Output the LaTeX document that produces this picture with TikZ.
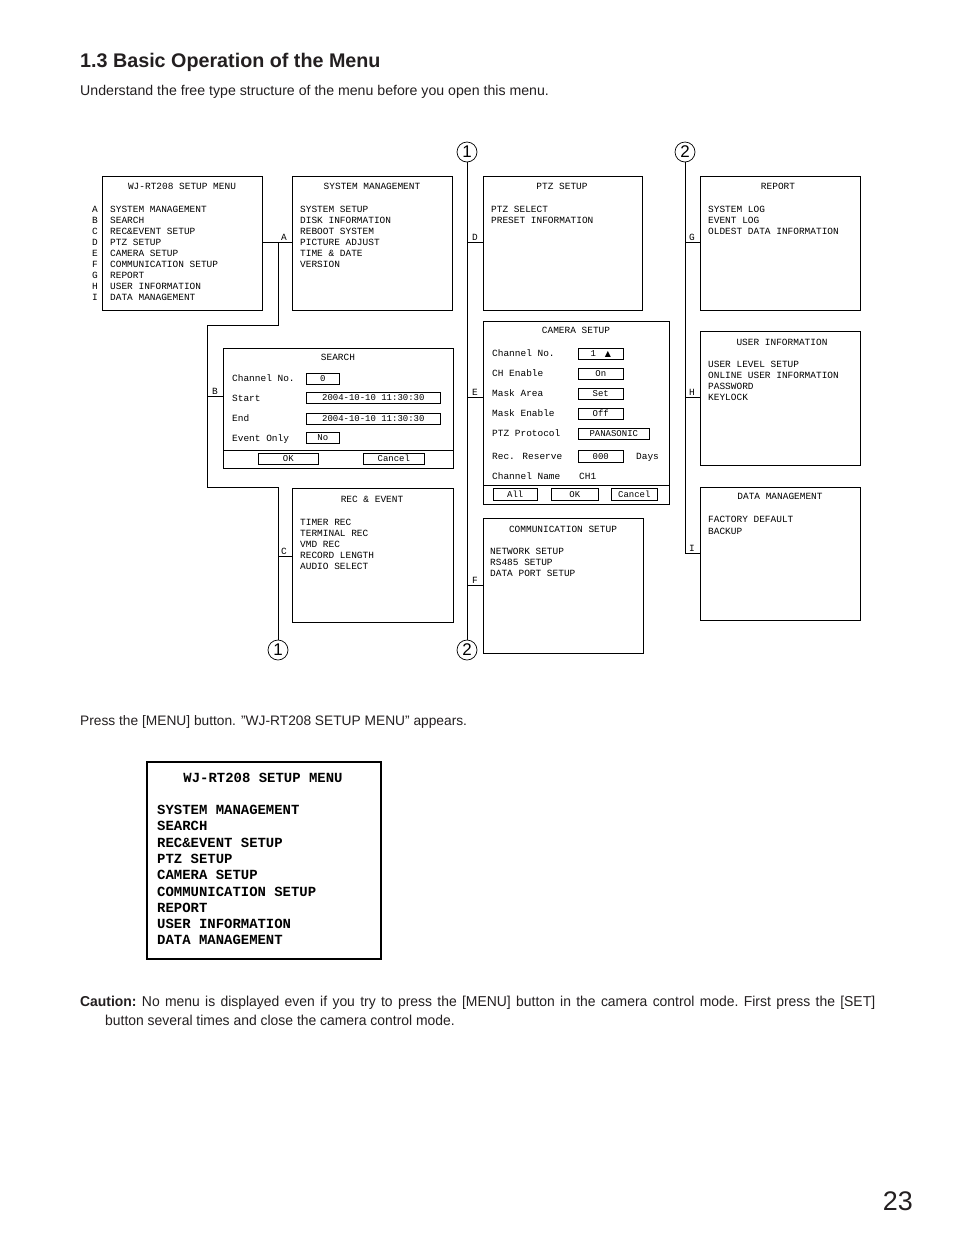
\documentclass[tikz,border=0pt]{standalone}
\usepackage{fontspec}
\setmainfont{Liberation Sans}
\newfontfamily\mono{Liberation Mono}
\newfontfamily\symf{DejaVu Sans}
\newfontfamily\narrowf[FakeStretch=0.97]{Liberation Sans}
\definecolor{ink}{RGB}{35,31,32}
\begin{document}
\begin{tikzpicture}[x=1bp,y=-1bp,
  wire/.style={line width=0.8bp, draw=black},
  mbox/.style={draw=black, line width=0.8bp, inner sep=0pt, anchor=north west, rectangle},
  field/.style={draw=black, line width=0.6bp, inner sep=0pt, anchor=north west, rectangle, minimum height=11.5bp, font=\mono\fontsize{9}{10}\selectfont},
  txt/.style={inner sep=0pt, anchor=base west, font=\mono\fontsize{9.5}{11}\selectfont},
  ttl/.style={inner sep=0pt, anchor=base, font=\mono\fontsize{9.5}{11}\selectfont},
  lbl/.style={inner sep=0pt, anchor=base, font=\mono\fontsize{9.5}{11}\selectfont},
  circ/.style={draw=black, line width=0.7bp, circle, minimum size=20bp, inner sep=0pt, font=\fontsize{17}{17}\selectfont},
  big/.style={inner sep=0pt, anchor=base west, font=\mono\bfseries\fontsize{14}{16}\selectfont},
  body/.style={inner sep=0pt, anchor=base west, text=ink, font=\fontsize{13.8}{16}\selectfont}
]
\useasboundingbox[fill=white] (0,0) rectangle (954,1237);

% ---------- headings ----------
\node[inner sep=0pt, anchor=base west, text=ink, font=\bfseries\fontsize{19.8}{22}\selectfont] (head) at (80,67) {1.3 Basic Operation of the Menu};
\node[body, font=\fontsize{14.2}{16}\selectfont] (sub) at (80,95) {Understand the free type structure of the menu before you open this menu.};
\node[body] (press) at (80,725) {Press the [MENU] button. "WJ-RT208 SETUP MENU" appears.};
\node[anchor=north west, inner sep=0pt, text width=795bp, align=justify, text=ink, font=\narrowf\fontsize{14.4}{19}\selectfont] (caution) at (80,995.5)
  {\frenchspacing\hangindent=25bp\hangafter=1\textbf{Caution:} No menu is displayed even if you try to press the [MENU] button in the camera control mode. First press the [SET]\linebreak button several times and close the camera control mode.\par};
\node[inner sep=0pt, anchor=base east, text=ink, font=\fontsize{27}{28}\selectfont] (pg) at (913,1210) {23};

% ---------- boxes ----------
\node[mbox, minimum width=160bp, minimum height=134bp] (main) at (102,176) {};
\node[mbox, minimum width=160bp, minimum height=134bp] (sys) at (292,176) {};
\node[mbox, minimum width=230bp, minimum height=120bp] (search) at (223,348) {};
\node[mbox, minimum width=161bp, minimum height=134bp] (rec) at (292,488) {};
\node[mbox, minimum width=159bp, minimum height=134bp] (ptz) at (483,176) {};
\node[mbox, minimum width=186bp, minimum height=183bp] (cam) at (483,321) {};
\node[mbox, minimum width=160bp, minimum height=135bp] (comm) at (483,518) {};
\node[mbox, minimum width=160bp, minimum height=134bp] (report) at (700,176) {};
\node[mbox, minimum width=160bp, minimum height=134bp] (user) at (700,331) {};
\node[mbox, minimum width=160bp, minimum height=133bp] (data) at (700,487) {};
\node[mbox, line width=2bp, minimum width=234bp, minimum height=197bp] (bigm) at (146,761) {};

% ---------- main menu ----------
\node[ttl] (mainT) at (182,189) {WJ-RT208 SETUP MENU};
\foreach \t [count=\i from 0] in {SYSTEM MANAGEMENT,SEARCH,REC\&EVENT SETUP,PTZ SETUP,CAMERA SETUP,COMMUNICATION SETUP,REPORT,USER INFORMATION,DATA MANAGEMENT}
  \node[txt] (mi\i) at (110,{212+11*\i}) {\t};
\foreach \t [count=\i from 0] in {A,B,C,D,E,F,G,H,I}
  \node[lbl] (ml\i) at (95,{212+11*\i}) {\t};

% ---------- system management ----------
\node[ttl] (sysT) at (372,189) {SYSTEM MANAGEMENT};
\foreach \t [count=\i from 0] in {SYSTEM SETUP,DISK INFORMATION,REBOOT SYSTEM,PICTURE ADJUST,TIME \& DATE,VERSION}
  \node[txt] (si\i) at (300,{212+11*\i}) {\t};

% ---------- search ----------
\node[ttl] (schT) at (338,360) {SEARCH};
\node[txt] (sl0) at (232,381) {Channel No.};
\node[txt] (sl1) at (232,401) {Start};
\node[txt] (sl2) at (232,421) {End};
\node[txt] (sl3) at (232,441) {Event Only};
\node[field, minimum width=33bp] (sf0) at (306,372.5) {0};
\node[field, minimum width=134bp] (sf1) at (306,391.5) {2004-10-10 11:30:30};
\node[field, minimum width=134bp] (sf2) at (306,412.5) {2004-10-10 11:30:30};
\node[field, minimum width=33bp] (sf3) at (306,431.5) {No};
\draw[wire] (search.west |- 0,450) -- (search.east |- 0,450);
\node[field, minimum width=60bp] (sok) at (258,452.5) {OK};
\node[field, minimum width=61bp] (scan) at (363,452.5) {Cancel};

% ---------- rec & event ----------
\node[ttl] (recT) at (372,502) {REC \& EVENT};
\foreach \t [count=\i from 0] in {TIMER REC,TERMINAL REC,VMD REC,RECORD LENGTH,AUDIO SELECT}
  \node[txt] (ri\i) at (300,{525+11*\i}) {\t};

% ---------- ptz ----------
\node[ttl] (ptzT) at (562,189) {PTZ SETUP};
\node[txt] (pi0) at (491,212) {PTZ SELECT};
\node[txt] (pi1) at (491,223) {PRESET INFORMATION};

% ---------- camera setup ----------
\node[ttl] (camT) at (576,333) {CAMERA SETUP};
\node[txt] (cl0) at (492,356) {Channel No.};
\node[txt] (cl1) at (492,376) {CH Enable};
\node[txt] (cl2) at (492,396) {Mask Area};
\node[txt] (cl3) at (492,416) {Mask Enable};
\node[txt] (cl4) at (492,436) {PTZ Protocol};
\node[txt] (cl5) at (492,459) {Rec. Reserve};
\node[txt] (cl6) at (492,479) {Channel Name};
\node[field, minimum width=45bp] (cf0) at (578,347.5) {1\hspace{9bp}{\symf\fontsize{8}{9}\selectfont ▲}};
\node[field, minimum width=45bp] (cf1) at (578,367.5) {On};
\node[field, minimum width=45bp] (cf2) at (578,387.5) {Set};
\node[field, minimum width=45bp] (cf3) at (578,407.5) {Off};
\node[field, minimum width=71bp] (cf4) at (578,427.5) {PANASONIC};
\node[field, minimum width=45bp] (cf5) at (578,450) {000};
\node[txt] (cdays) at (636,459) {Days};
\node[txt] (cch1) at (579,479) {CH1};
\draw[wire] (cam.west |- 0,485) -- (cam.east |- 0,485);
\node[field, minimum width=44bp] (call) at (493,488) {All};
\node[field, minimum width=47bp] (cok) at (551,488) {OK};
\node[field, minimum width=46bp] (ccan) at (611,488) {Cancel};

% ---------- communication ----------
\node[ttl] (comT) at (563,532) {COMMUNICATION SETUP};
\node[txt] (coi0) at (490,554) {NETWORK SETUP};
\node[txt] (coi1) at (490,565) {RS485 SETUP};
\node[txt] (coi2) at (490,576) {DATA PORT SETUP};

% ---------- report ----------
\node[ttl] (repT) at (778,189) {REPORT};
\node[txt] (rp0) at (708,212) {SYSTEM LOG};
\node[txt] (rp1) at (708,223) {EVENT LOG};
\node[txt] (rp2) at (708,234) {OLDEST DATA INFORMATION};

% ---------- user information ----------
\node[ttl] (usrT) at (782,345) {USER INFORMATION};
\node[txt] (u0) at (708,367) {USER LEVEL SETUP};
\node[txt] (u1) at (708,378) {ONLINE USER INFORMATION};
\node[txt] (u2) at (708,389) {PASSWORD};
\node[txt] (u3) at (708,400) {KEYLOCK};

% ---------- data management ----------
\node[ttl] (datT) at (780,499) {DATA MANAGEMENT};
\node[txt] (d0) at (708,522) {FACTORY DEFAULT};
\node[txt] (d1) at (708,534) {BACKUP};

% ---------- big menu ----------
\node[inner sep=0pt, anchor=base, font=\mono\bfseries\fontsize{14}{16}\selectfont] (bigT) at (263,782) {WJ-RT208 SETUP MENU};
\foreach \t [count=\i from 0] in {SYSTEM MANAGEMENT,SEARCH,REC\&EVENT SETUP,PTZ SETUP,CAMERA SETUP,COMMUNICATION SETUP,REPORT,USER INFORMATION,DATA MANAGEMENT}
  \node[big] (bi\i) at (157,{814.5+16.3*\i}) {\t};

% ---------- circles ----------
\node[circ] (o1b) at (278,650) {1};
\node[circ] (o1t) at (467,152) {1};
\node[circ] (o2t) at (685,152) {2};
\node[circ] (o2b) at (467,650) {2};

% ---------- connectors ----------
\coordinate (jA) at (278,242);
\coordinate (c1) at (278,325);
\coordinate (c2) at (207,325);
\coordinate (c3) at (207,487);
\coordinate (c4) at (278,487);
\coordinate (jB) at (207,396);
\coordinate (jC) at (278,556);
\coordinate (jD) at (467,242);
\coordinate (jE) at (467,397);
\coordinate (jF) at (467,585);
\coordinate (jG) at (685,242);
\coordinate (jH) at (685,397);
\coordinate (jI) at (685,553);

\draw[wire] (main.east |- jA) -- (sys.west |- jA);
\draw[wire] (jA) -- (c1) -- (c2) -- (c3) -- (c4) -- (o1b);
\draw[wire] (jB) -- (search.west |- jB);
\draw[wire] (jC) -- (rec.west |- jC);
\draw[wire] (o1t) -- (o2b);
\draw[wire] (jD) -- (ptz.west |- jD);
\draw[wire] (jE) -- (cam.west |- jE);
\draw[wire] (jF) -- (comm.west |- jF);
\draw[wire] (o2t) -- (jI) -- (data.west |- jI);
\draw[wire] (jG) -- (report.west |- jG);
\draw[wire] (jH) -- (user.west |- jH);

% branch labels
\node[lbl] (lA) at (284,240) {A};
\node[lbl] (lB) at (215,394) {B};
\node[lbl] (lC) at (284,554) {C};
\node[lbl] (lD) at (475,240) {D};
\node[lbl] (lE) at (475,395) {E};
\node[lbl] (lF) at (475,583) {F};
\node[lbl] (lG) at (692,240) {G};
\node[lbl] (lH) at (692,395) {H};
\node[lbl] (lI) at (692,551) {I};
\end{tikzpicture}
\end{document}
